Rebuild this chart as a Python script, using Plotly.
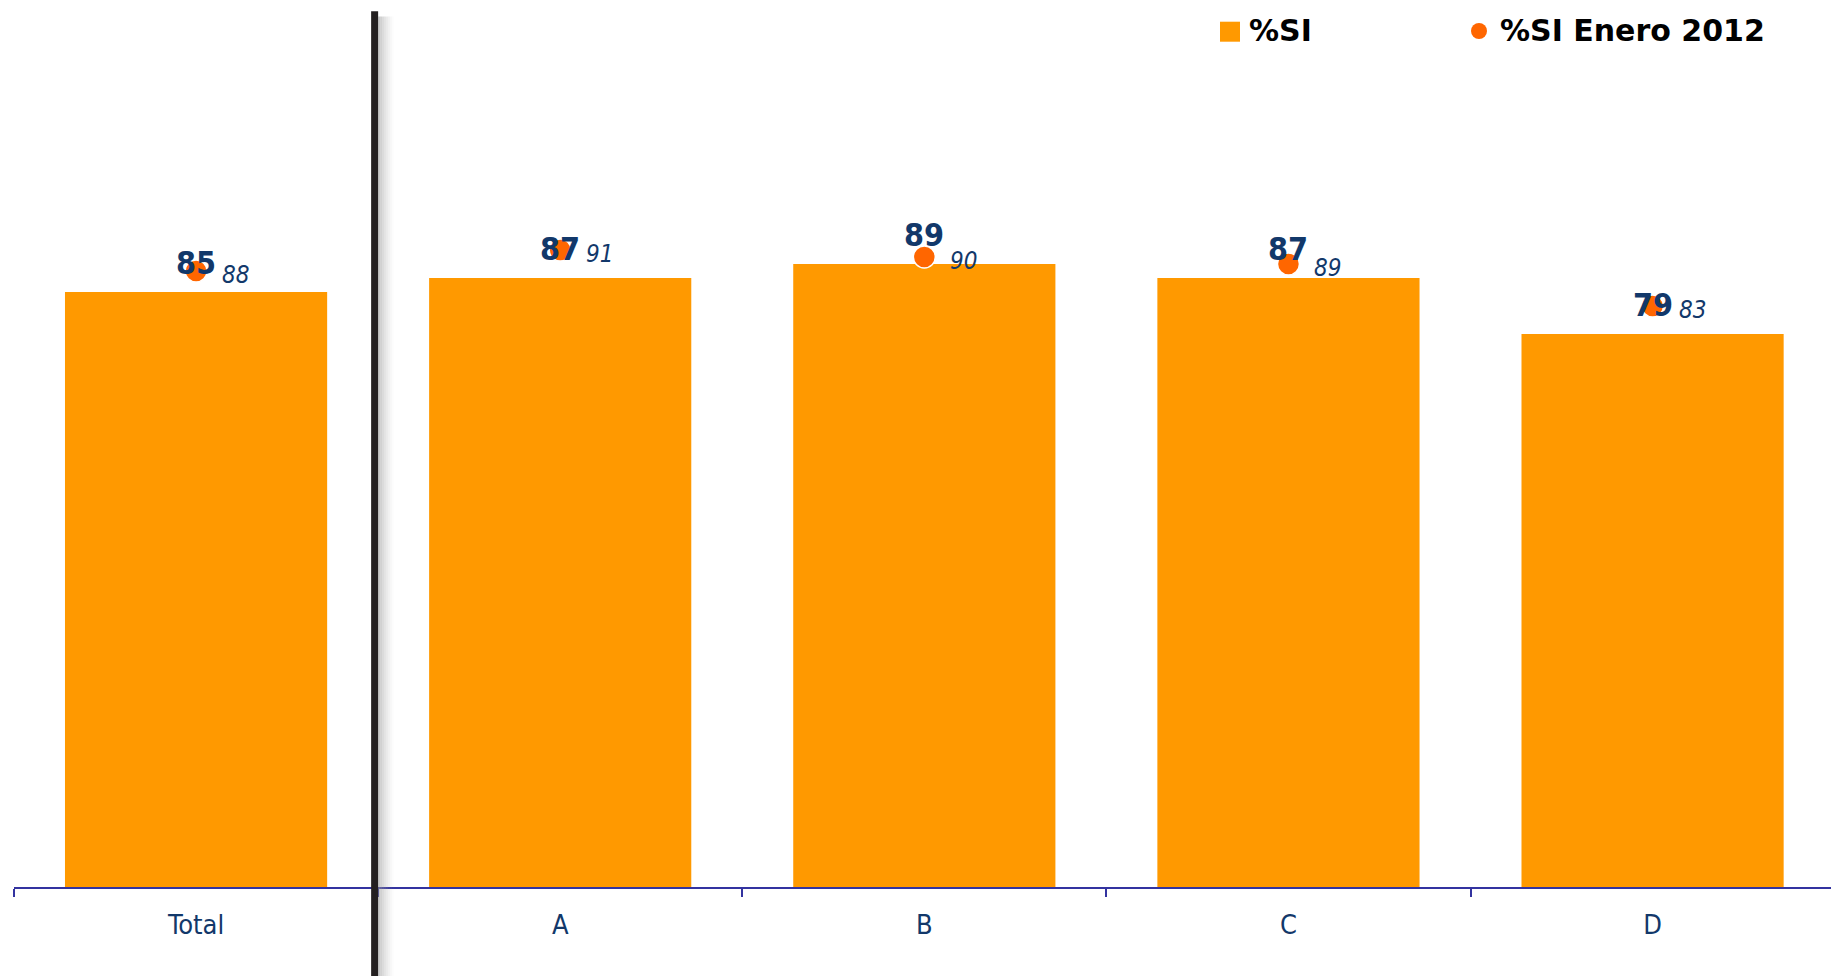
import plotly.graph_objects as go

# Data
categories = ["Total", "A", "B", "C", "D"]
si_values = [85, 87, 89, 87, 79]
si_enero_2012 = [88, 91, 90, 89, 83]
series_names = ["%SI", "%SI Enero 2012"]

BAR_COLOR = "#FF9900"
DOT_COLOR = "#FF6600"
NAVY = "#12386A"
AXIS_COLOR = "#3333A0"
FONT = "DejaVu Sans Condensed, DejaVu Sans, sans-serif"
LEGEND_FONT = "DejaVu Sans, sans-serif"

W, H = 1831, 976
M_L, M_R, M_T, M_B = 14, 0, 12, 89
PLOT_W = W - M_L - M_R
PLOT_H = H - M_T - M_B


def px_x(p):
    """Page x pixel -> paper fraction."""
    return (p - M_L) / PLOT_W


def px_y(p):
    """Page y pixel (from top) -> paper fraction."""
    return (H - M_B - p) / PLOT_H


fig = go.Figure()

fig.add_trace(go.Bar(
    x=categories, y=si_values, name=series_names[0],
    marker=dict(color=BAR_COLOR, line=dict(width=0)),
    width=0.72, hoverinfo="x+y",
))

fig.add_trace(go.Scatter(
    x=categories, y=si_enero_2012, name=series_names[1],
    mode="markers",
    marker=dict(color=DOT_COLOR, size=22, line=dict(color="white", width=1.5)),
))

annotations = []
# bold value labels above the bars
for cat, v in zip(categories, si_values):
    annotations.append(dict(
        x=cat, y=v, xref="x", yref="y", text=str(v), showarrow=False,
        xanchor="center", yanchor="bottom", yshift=8,
        font=dict(family=FONT, size=32, color=NAVY, weight="bold"),
    ))
# italic labels next to the January 2012 dots
for cat, v in zip(categories, si_enero_2012):
    annotations.append(dict(
        x=cat, y=v, xref="x", yref="y", text=str(v), showarrow=False,
        xanchor="left", yanchor="middle", xshift=24, yshift=-3.5,
        font=dict(family=FONT, size=24, color=NAVY, style="italic"),
    ))

shapes = []
# separator between the total and the groups, with a soft shadow on its right
unit = 1.0 / (PLOT_W / 4.99)
for i in range(8):
    shapes.append(dict(
        type="rect", xref="x", yref="paper",
        x0=0.5 + i * 2 * unit, x1=0.5 + (i + 1) * 2 * unit, y0=-0.11, y1=0.995,
        fillcolor="#9A9A9A", opacity=0.55 * (1 - i / 8) ** 1.5,
        line=dict(width=0), layer="above",
    ))
shapes.append(dict(
    type="rect", xref="x", yref="paper",
    x0=0.5 - 7 * unit, x1=0.5, y0=-0.11, y1=1.001,
    fillcolor="#231F20", line=dict(width=0), layer="above",
))

# legend: swatches and labels across the top right
shapes.append(dict(
    type="rect", xref="paper", yref="paper",
    xsizemode="pixel", ysizemode="pixel",
    xanchor=px_x(1230), yanchor=px_y(31.7),
    x0=-10, x1=10, y0=-10, y1=10,
    fillcolor=BAR_COLOR, line=dict(width=0), layer="above",
))
shapes.append(dict(
    type="circle", xref="paper", yref="paper",
    xsizemode="pixel", ysizemode="pixel",
    xanchor=px_x(1479), yanchor=px_y(31),
    x0=-8, x1=8, y0=-8, y1=8,
    fillcolor=DOT_COLOR, line=dict(width=0), layer="above",
))
for name, xp in zip(series_names, [1247, 1498]):
    annotations.append(dict(
        x=px_x(xp), y=px_y(31), xref="paper", yref="paper",
        text=name, showarrow=False, xanchor="left", yanchor="middle",
        font=dict(family=LEGEND_FONT, size=30, color="black", weight="bold"),
    ))

fig.update_layout(
    width=W, height=H,
    margin=dict(l=M_L, r=M_R, t=M_T, b=M_B),
    paper_bgcolor="white", plot_bgcolor="white",
    bargap=0.28,
    showlegend=False,
    xaxis=dict(
        range=[-0.5, 4.49], showgrid=False, zeroline=False,
        showline=True, linecolor=AXIS_COLOR, linewidth=2,
        ticks="outside", tickson="boundaries", ticklen=8, tickcolor=AXIS_COLOR,
        tickwidth=2, ticklabelstandoff=13,
        tickfont=dict(family=FONT, size=27, color=NAVY),
    ),
    yaxis=dict(range=[0, 125], visible=False, showgrid=False, zeroline=False),
    annotations=annotations,
    shapes=shapes,
)

fig.write_html("out.html")
